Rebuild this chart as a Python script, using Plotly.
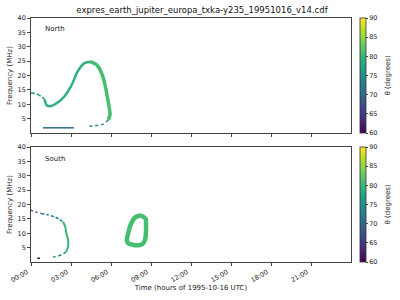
import plotly.graph_objects as go
from plotly.subplots import make_subplots
from plotly.colors import sample_colorscale

TITLE = "expres_earth_jupiter_europa_txka-y235_19951016_v14.cdf"
TICK_HOURS = [0, 3, 6, 9, 12, 15, 18, 21]
TICK_LABELS = ["00:00", "03:00", "06:00", "09:00", "12:00", "15:00", "18:00", "21:00"]

# North hemisphere emission (time in hours, frequency in MHz, theta in degrees)
north_start_t = [0, 0.4, 0.77, 1.03]
north_start_f = [13.9, 13.6, 12.7, 11.6]
north_rise_t = [1.03, 1.15, 1.4, 2.0, 2.5, 3.0, 3.5, 4.0, 4.43]
north_rise_f = [11.6, 9.8, 9.3, 10.6, 12.7, 16.2, 21.4, 24.3, 24.8]
north_fall_t = [4.43, 4.93, 5.3, 5.55, 5.72, 5.87, 5.93, 5.8]
north_fall_f = [24.8, 23.7, 20.8, 16.8, 12.7, 8.7, 6.4, 4.6]
north_ret_t = [5.8, 5.43, 5.05, 4.67, 4.17]
north_ret_f = [4.6, 3.1, 2.7, 2.5, 2.2]
north_flat_t = [0.9, 3.22]
north_flat_f = [1.8, 1.8]

# South hemisphere emission
south_top1_t = [0, 0.28, 0.77]
south_top1_f = [18.0, 17.5, 16.9]
south_top2_t = [0.77, 1.27, 1.78, 2.15, 2.4]
south_top2_f = [16.9, 16.4, 15.7, 14.8, 14.0]
south_side_t = [2.4, 2.57, 2.65, 2.78, 2.78, 2.65]
south_side_f = [14.0, 12.3, 10.0, 7.7, 5.3, 3.6]
south_ret_t = [2.65, 2.4, 2.03, 1.65]
south_ret_f = [3.6, 2.8, 2.1, 1.7]
south_dash_t = [0.47, 0.67]
south_dash_f = [1.3, 1.3]
south_ring_t = [8.18, 8.59, 8.63, 8.55, 8.33, 7.8, 7.28, 7.19, 7.47, 7.76, 8.18]
south_ring_f = [16.2, 15.1, 12.9, 7.7, 6.1, 5.8, 6.6, 7.7, 12.9, 15.3, 16.2]

THETA_MIN, THETA_MAX = 60, 90

# segments: (row, t, f, theta, width, dash)
segments = [
    (1, north_start_t, north_start_f, 76, 1.5, "4px,2px"),
    (1, north_rise_t, north_rise_f, 79, 2.5, "solid"),
    (1, north_fall_t, north_fall_f, 81, 3.5, "solid"),
    (1, north_ret_t, north_ret_f, 74, 1.5, "3px,3px"),
    (1, north_flat_t, north_flat_f, 71, 1.5, "solid"),
    (2, south_top1_t, south_top1_f, 67, 1.5, "2px,3px"),
    (2, south_top2_t, south_top2_f, 73, 1.5, "3px,2px"),
    (2, south_side_t, south_side_f, 80, 2, "solid"),
    (2, south_ret_t, south_ret_f, 74, 1.5, "3px,3px"),
    (2, south_dash_t, south_dash_f, 60, 1.5, "solid"),
    (2, south_ring_t, south_ring_f, 81, 4.5, "solid"),
]


def theta_color(th):
    return sample_colorscale("Viridis", [(th - THETA_MIN) / (THETA_MAX - THETA_MIN)])[0]


fig = make_subplots(rows=2, cols=1, shared_xaxes=False, vertical_spacing=0.0574)

for row, t, f, th, w, dash in segments:
    fig.add_trace(go.Scatter(x=t, y=f, mode="lines", line=dict(color=theta_color(th), width=w,
                                                               dash=dash, shape="spline", smoothing=0.6),
                             hoverinfo="skip", showlegend=False), row=row, col=1)

# dummy traces for the colorbars
for row, ca in [(1, "coloraxis"), (2, "coloraxis2")]:
    fig.add_trace(go.Scatter(x=[None], y=[None], mode="markers",
                             marker=dict(color=[THETA_MIN], coloraxis=ca),
                             showlegend=False, hoverinfo="skip"), row=row, col=1)

font = "DejaVu Sans"
cb_common = dict(thickness=6, thicknessmode="pixels", lenmode="pixels", len=115,
                 x=1.028, xanchor="left", yanchor="top", xpad=0, ypad=0,
                 outlinewidth=0.8, outlinecolor="#333",
                 tickmode="array", tickvals=[60, 65, 70, 75, 80, 85, 90], ticks="outside", ticklen=2,
                 tickfont=dict(size=6.5, family=font, color="#222"))
fig.update_layout(
    width=400, height=300,
    margin=dict(l=31, r=49, t=18, b=38, autoexpand=False),
    plot_bgcolor="white", paper_bgcolor="white",
    font=dict(family=font, size=7, color="#222"),
    title=dict(text=TITLE, x=0.505, xanchor="center", y=0.967, yanchor="middle",
               font=dict(size=8.5, family=font, color="#111")),
    coloraxis=dict(colorscale="Viridis", cmin=THETA_MIN, cmax=THETA_MAX,
                   colorbar=dict(y=1.0, **cb_common)),
    coloraxis2=dict(colorscale="Viridis", cmin=THETA_MIN, cmax=THETA_MAX,
                    colorbar=dict(y=0.4713, **cb_common)),
)

ax_common = dict(showline=True, linecolor="#444", linewidth=0.8, mirror=True, showgrid=False,
                 zeroline=False, ticks="outside", ticklen=3, tickcolor="#444", automargin=False,
                 tickfont=dict(size=6.5, family=font, color="#222"))
for r in (1, 2):
    fig.update_xaxes(range=[0, 24], tickmode="array", tickvals=TICK_HOURS, ticktext=TICK_LABELS,
                     row=r, col=1, **ax_common)
    fig.update_yaxes(range=[0, 40], tickmode="array", tickvals=[5, 10, 15, 20, 25, 30, 35, 40],
                     title=dict(text="Frequency (MHz)", font=dict(size=7, family=font, color="#222"),
                                standoff=4),
                     row=r, col=1, **ax_common)
fig.update_xaxes(showticklabels=False, row=1, col=1)
fig.update_xaxes(tickangle=-30, ticklabelshift=-4,
                 title=dict(text="Time (hours of 1995-10-16 UTC)",
                            font=dict(size=7, family=font, color="#222"), standoff=0),
                 row=2, col=1)
fig.update_layout(yaxis=dict(domain=[0.5287, 1.0]), yaxis2=dict(domain=[0.0, 0.4713]))

fig.add_annotation(text="North", xref="x domain", yref="y domain", x=0.037, y=0.9, showarrow=False,
                   xanchor="left", yanchor="middle", font=dict(size=7, family=font, color="#222"))
fig.add_annotation(text="South", xref="x2 domain", yref="y2 domain", x=0.037, y=0.9, showarrow=False,
                   xanchor="left", yanchor="middle", font=dict(size=7, family=font, color="#222"))

# colorbar titles, reading bottom to top
for ycen in (1.0 - 57.5 / 244, 0.4713 - 57.5 / 244):
    fig.add_annotation(text="θ (degrees)", xref="paper", yref="paper", x=(388 - 31) / 320, y=ycen,
                       textangle=-90, showarrow=False, xanchor="center", yanchor="middle",
                       font=dict(size=7, family=font, color="#222"))

fig.write_html("out.html")
